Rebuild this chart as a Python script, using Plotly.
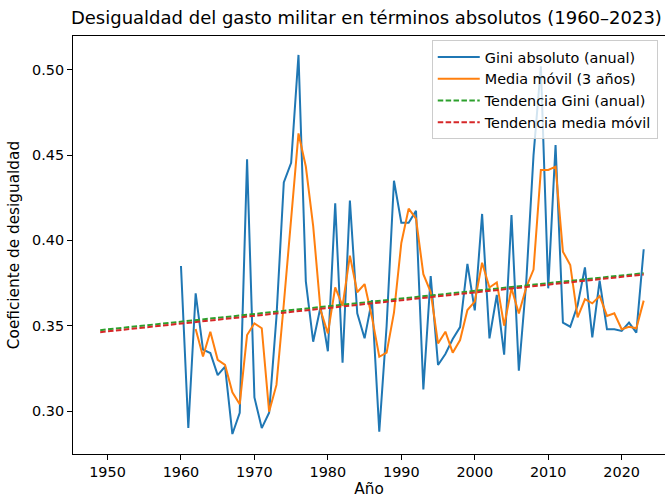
import plotly.graph_objects as go

# Gini values (1960-2023)
years = list(range(1960, 2024))
gini_anual = [
    0.385, 0.290, 0.369, 0.336, 0.334, 0.321, 0.326, 0.2865, 0.299, 0.4475,
    0.308, 0.290, 0.299, 0.355, 0.434, 0.4455, 0.5087, 0.376, 0.3406, 0.361,
    0.335, 0.4217, 0.3283, 0.4233, 0.3573, 0.3426, 0.365, 0.2879, 0.350, 0.435,
    0.4104, 0.4104, 0.4174, 0.3127, 0.3791, 0.327, 0.3334, 0.3422, 0.3492, 0.3862,
    0.359, 0.4155, 0.3426, 0.368, 0.333, 0.4149, 0.3236, 0.375, 0.450, 0.502,
    0.3719, 0.4559, 0.3518, 0.3494, 0.362, 0.3842, 0.3432, 0.3764, 0.3479, 0.3479,
    0.3469, 0.3518, 0.3459, 0.3948,
]

# 3-year moving average as drawn (starts in 1962)
years_mm = list(range(1962, 2024))
media_movil = [
    0.348, 0.332, 0.3465, 0.330, 0.327, 0.311, 0.304, 0.3445,
    0.3514, 0.3485, 0.2996, 0.3153, 0.3627, 0.4115, 0.4627, 0.4433, 0.4084, 0.3592,
    0.3455, 0.3725, 0.3616, 0.3911, 0.3696, 0.3744, 0.355, 0.3318, 0.3342, 0.3576,
    0.3985, 0.4186, 0.4127, 0.3802, 0.3697, 0.3396, 0.3465, 0.3342, 0.3416, 0.3592,
    0.3641, 0.3869, 0.3724, 0.3754, 0.350, 0.3719, 0.3571, 0.3724, 0.3829, 0.4413,
    0.4413, 0.4432, 0.3934, 0.3856, 0.3549, 0.3655, 0.3631, 0.3674, 0.3557, 0.3573,
    0.3479, 0.3494, 0.3485, 0.3647,
]

# Trend lines (end points)
years_trend = [1949, 2023]
trend_gini = [0.3474, 0.3808]
trend_mm = [0.3462, 0.3800]

x_ticks = [1950, 1960, 1970, 1980, 1990, 2000, 2010, 2020]
y_ticks = [0.30, 0.35, 0.40, 0.45, 0.50]

fig = go.Figure()
fig.add_trace(go.Scatter(x=years, y=gini_anual, mode="lines",
                         name="Gini absoluto (anual)",
                         line=dict(color="#1f77b4", width=2)))
fig.add_trace(go.Scatter(x=years_mm, y=media_movil, mode="lines",
                         name="Media móvil (3 años)",
                         line=dict(color="#ff7f0e", width=2)))
fig.add_trace(go.Scatter(x=years_trend, y=trend_gini, mode="lines",
                         name="Tendencia Gini (anual)",
                         line=dict(color="#2ca02c", width=2, dash="5.5px,2.4px")))
fig.add_trace(go.Scatter(x=years_trend, y=trend_mm, mode="lines",
                         name="Tendencia media móvil",
                         line=dict(color="#d62728", width=2, dash="5.5px,2.4px")))

fig.update_layout(
    width=665, height=499,
    margin=dict(l=73, r=0, t=36, b=45),
    paper_bgcolor="white", plot_bgcolor="white",
    font=dict(family="DejaVu Sans", size=14.4, color="black"),
    title=dict(text="Desigualdad del gasto militar en términos absolutos (1960–2023)",
               font=dict(size=18), xref="container", x=0.551, xanchor="center",
               yref="container", y=0.964, yanchor="middle"),
    legend=dict(x=0.606, y=0.99, xanchor="left", yanchor="top",
                bgcolor="rgba(255,255,255,0.8)", bordercolor="#cccccc", borderwidth=1,
                font=dict(size=14.4), itemwidth=42),
)
fig.update_xaxes(range=[1945.3, 2025.9], tickvals=x_ticks, automargin=False,
                 showline=True, linecolor="black", linewidth=1, mirror=True,
                 ticks="outside", ticklen=5, tickcolor="black",
                 showgrid=False, zeroline=False,
                 title=dict(text="Año", standoff=4, font=dict(size=15.3)))
fig.update_yaxes(range=[0.2748, 0.5198], tickvals=y_ticks, tickformat=".2f",
                 automargin=False,
                 showline=True, linecolor="black", linewidth=1,
                 ticks="outside", ticklen=5, tickcolor="black",
                 showgrid=False, zeroline=False,
                 title=dict(text="Coeficiente de desigualdad", standoff=8,
                            font=dict(size=15.3)))

# drop the page's default body margin so the figure sits at the window corner
fig.write_html("out.html", config={"displayModeBar": False},
               post_script="document.body.style.margin='0';")
